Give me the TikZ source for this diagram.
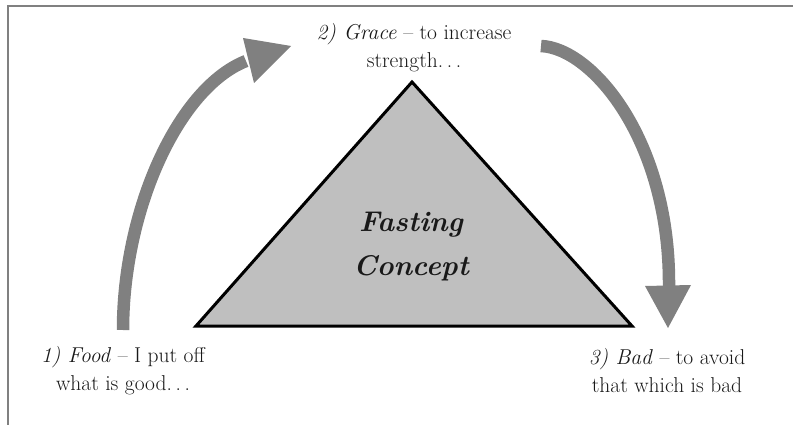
\documentclass[tikz,border=0pt]{standalone}
\begin{document}
\begin{tikzpicture}[x=1pt,y=-1pt,
  frame/.style={draw=black!50,line width=1.6pt},
  tri/.style={draw=black,line width=3pt,fill=black!25,line join=miter},
  shaft/.style={draw=black!50,line width=12.5pt},
  head/.style={fill=black!50},
  lbl/.style={align=center,text=black!90,font=\fontsize{21.5}{28}\selectfont},
  title/.style={align=center,text=black!90,font=\fontsize{28.5}{44}\selectfont\bfseries\itshape}]
\useasboundingbox (0,0) rectangle (793,425);
% frame
\draw[frame] (8,425) -- (8,6) -- (793,6);
% triangle
\coordinate (apex) at (412,82);
\coordinate (bl) at (196,326);
\coordinate (br) at (632,326);
\draw[tri] (apex) -- (bl) -- (br) -- cycle;
\node[title] (concept) at (411,247) {Fasting\\Concept};
% labels
\node[lbl] (grace) at (414,48) {\textit{2) Grace} -- to increase\\strength.\,.\,.};
\node[lbl] (food) at (123,371) {\textit{1) Food} -- I put off\\what is good.\,.\,.};
\node[lbl] (bad) at (667,371) {\textit{3) Bad} -- to avoid\\that which is bad};
% left arrow
\coordinate (l0) at (123,330);
\coordinate (l1) at (246,61);
\draw[shaft] (l0) .. controls (123,210) and (178,88) .. (l1);
\fill[head] (243,38) -- (291,46) -- (254,83) -- cycle;
% right arrow
\coordinate (r0) at (541,46);
\coordinate (r1) at (669,286);
\draw[shaft] (r0) .. controls (592,48) and (670,140) .. (r1);
\fill[head] (645,286) -- (691,285) -- (668,328) -- cycle;
\end{tikzpicture}
\end{document}
